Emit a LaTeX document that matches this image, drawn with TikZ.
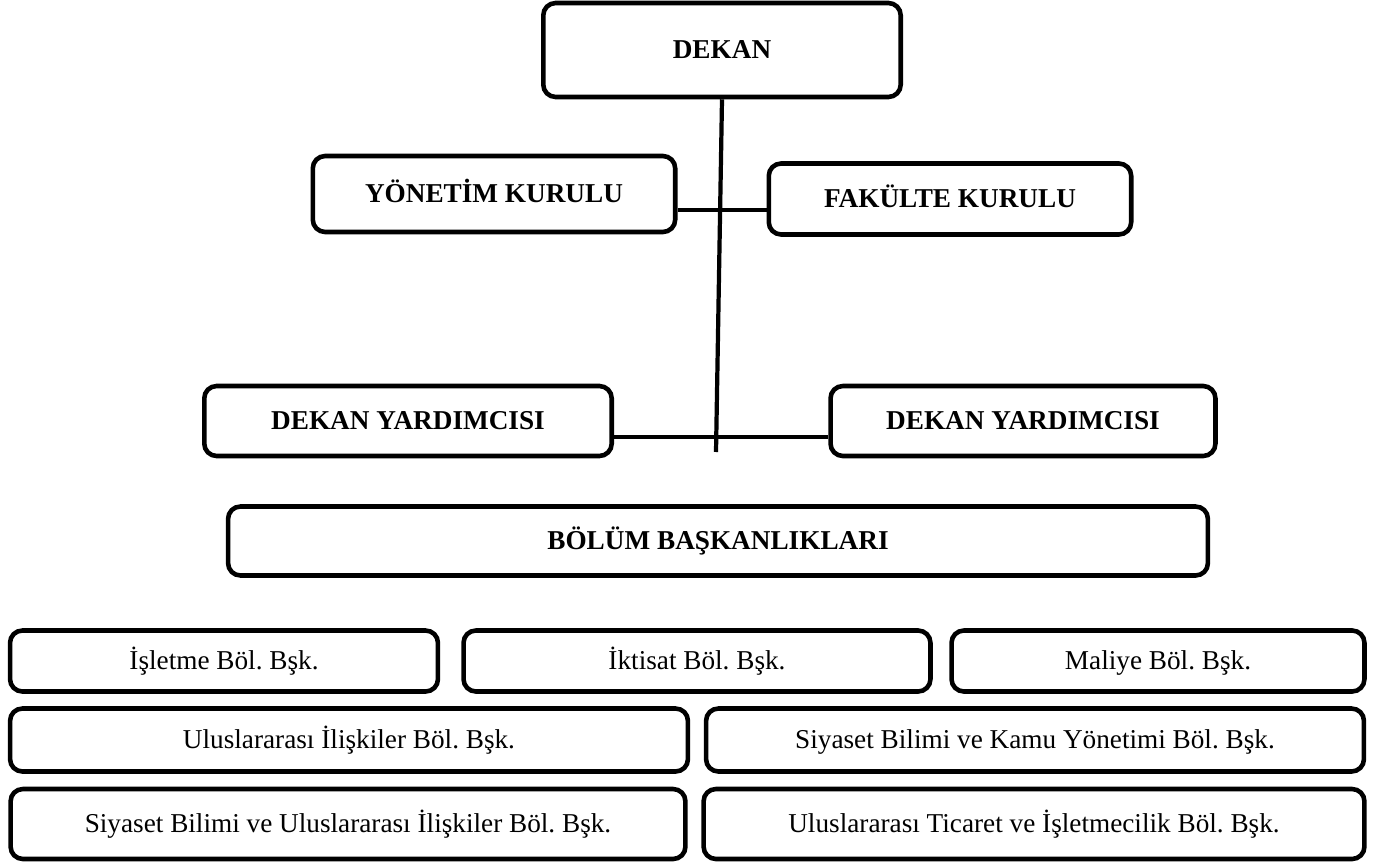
\documentclass[tikz,border=0pt]{standalone}
\usepackage{fontspec}
\setmainfont{Liberation Serif}
\frenchspacing
\begin{document}
\begin{tikzpicture}
  [x=0.02cm,y=-0.02cm,line width=2.4pt,
   every node/.style={draw,rounded corners=7pt,line width=2.6pt,inner sep=0pt,
     text height=10pt,text depth=0pt,font=\fontsize{15.5}{18}\selectfont},
   head/.style={font=\fontsize{15.5}{18}\selectfont\bfseries}]
  \useasboundingbox (0,0) rectangle (1379,865);

  \node[head,minimum width=7.15cm,minimum height=1.88cm] (dekan) at (722,50) {DEKAN};
  \node[head,minimum width=7.25cm,minimum height=1.52cm] (yk) at (494,194) {YÖNETİM KURULU};
  \node[head,minimum width=7.25cm,minimum height=1.42cm] (fk) at (950,199) {FAKÜLTE KURULU};
  \node[head,minimum width=8.15cm,minimum height=1.40cm] (dy1) at (408,421) {DEKAN YARDIMCISI};
  \node[head,minimum width=7.7cm,minimum height=1.40cm] (dy2) at (1023,421) {DEKAN YARDIMCISI};
  \node[head,minimum width=19.6cm,minimum height=1.38cm] (bb) at (718,541) {BÖLÜM BAŞKANLIKLARI};

  \node[minimum width=8.56cm,minimum height=1.22cm] (b1) at (224,661) {İşletme Böl. Bşk.};
  \node[minimum width=9.34cm,minimum height=1.22cm] (b2) at (697,661) {İktisat Böl. Bşk.};
  \node[minimum width=8.26cm,minimum height=1.22cm] (b3) at (1158,661) {Maliye Böl. Bşk.};
  \node[minimum width=13.56cm,minimum height=1.26cm] (b4) at (349,740) {Uluslararası İlişkiler Böl. Bşk.};
  \node[minimum width=13.16cm,minimum height=1.26cm] (b5) at (1035,740) {Siyaset Bilimi ve Kamu Yönetimi Böl. Bşk.};
  \node[minimum width=13.5cm,minimum height=1.40cm] (b6) at (348,824) {Siyaset Bilimi ve Uluslararası İlişkiler Böl. Bşk.};
  \node[minimum width=13.22cm,minimum height=1.40cm] (b7) at (1034,824) {Uluslararası Ticaret ve İşletmecilik Böl. Bşk.};

  \coordinate (vend) at (716,452);
  \draw (dekan.south) -- (vend);

  \foreach \from/\to/\lev in {yk/fk/210,dy1/dy2/437}
    \draw (\from.east |- 0,\lev) -- (\to.west |- 0,\lev);

\end{tikzpicture}
\end{document}
